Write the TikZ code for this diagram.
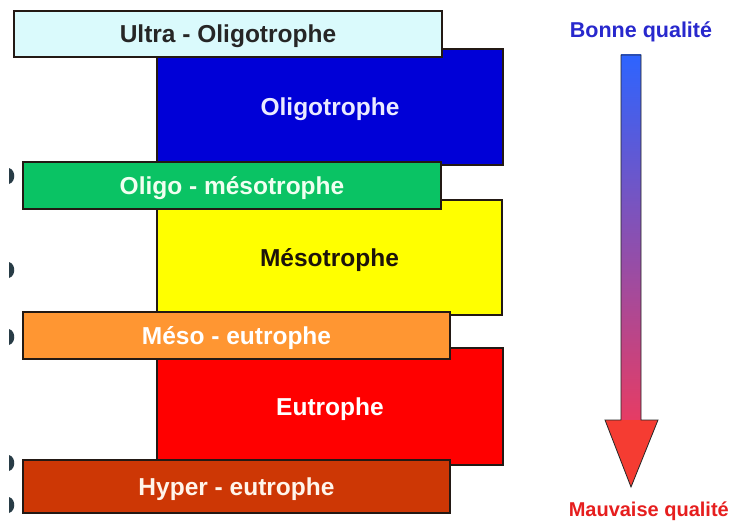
\documentclass[tikz,border=0pt]{standalone}
\usepackage{fontspec}
\setmainfont{Liberation Sans}
\usepackage{tikz}
\usetikzlibrary{
    positioning,
    calc
}
\definecolor{ultraCyan}{RGB}{218, 250, 252}
\definecolor{oligoBlue}{RGB}{0, 0, 215}
\definecolor{omGreen}{RGB}{10, 195, 100}
\definecolor{mesoYellow}{RGB}{255, 255, 0}
\definecolor{meOrange}{RGB}{255, 150, 50}
\definecolor{eutroRed}{RGB}{255, 0, 0}
\definecolor{hyperRust}{RGB}{205, 55, 5}
\definecolor{edgeDark}{RGB}{35, 25, 20}
\definecolor{goodBlue}{RGB}{40, 40, 205}
\definecolor{badRed}{RGB}{230, 30, 30}
\definecolor{markSlate}{RGB}{40, 60, 70}
\definecolor{arrowTop}{RGB}{45, 100, 255}
\definecolor{arrowMid}{RGB}{230, 60, 100}
\definecolor{arrowHead}{RGB}{245, 60, 50}
\tikzset{
    % grands blocs (niveau trophique)
    level/.style={
        rectangle,
        draw=edgeDark,
        line width=1.3pt,
        minimum width=346pt,
        minimum height=116pt,
        inner sep=0pt,
        text height=17pt,
        text depth=0pt,
        font=\bfseries\fontsize{24.5}{28}\selectfont
    },
    % bandes de transition
    band/.style={
        rectangle,
        draw=edgeDark,
        line width=1.3pt,
        minimum height=47pt,
        inner sep=0pt,
        text height=17pt,
        text depth=0pt,
        font=\bfseries\fontsize{24.5}{28}\selectfont
    },
    % libelles de qualite
    quality/.style={
        font=\bfseries\fontsize{21.5}{25}\selectfont,
        inner sep=0pt
    }
}
\begin{document}
\begin{tikzpicture}[x=1pt, y=-1pt]

    \useasboundingbox[fill=white] (0,0) rectangle (730,524);

    % [1] grands blocs
    \node[level, fill=oligoBlue, text=blue!8!white] (oligo) at (330,107) {Oligotrophe};
    \node[level, fill=mesoYellow, text=black!85!brown, minimum width=345pt, minimum height=115pt] (meso) at (329.5,257.5) {Mésotrophe};
    \node[level, fill=eutroRed, text=white, minimum height=117pt] (eutro) at (330,406.5) {Eutrophe};

    % [2] bandes (au-dessus des blocs)
    \node[band, fill=ultraCyan, text=black!85, minimum width=428pt, minimum height=46pt] (ultra) at (228,34) {Ultra - Oligotrophe};
    \node[band, fill=omGreen, text=green!6!white, minimum width=418pt] (oligomeso) at (232,185.5) {Oligo - mésotrophe};
    \node[band, fill=meOrange, text=white, minimum width=427pt] (mesoeu) at (236.5,335.5) {Méso - eutrophe};
    \node[band, fill=hyperRust, text=orange!8!white, minimum width=427pt, minimum height=53pt] (hyper) at (236.5,486.5) {Hyper - eutrophe};

    % petites marques coupees au bord gauche
    \foreach \my in {176, 270, 337, 463, 505}
        \fill[markSlate] (9,\my-8) .. controls (16,\my-6) and (16,\my+6) .. (9,\my+8) -- cycle;

    % [3] echelle de qualite
    \node[quality, text=goodBlue] (good) at (641,32) {Bonne qualité};
    \node[quality, text=badRed, anchor=east, font=\bfseries\fontsize{20}{24}\selectfont] (bad) at (729,511) {Mauvaise qualité};

    \coordinate (top) at (631,55);
    \coordinate (tip) at (631,487);
    % tige en degrade, pointe rouge
    \shade[top color=arrowTop, bottom color=arrowMid]
        ($(top)+(-10,0)$) rectangle ($(tip)+(10,-67)$);
    \fill[arrowHead]
        ($(tip)+(27,-67)$) -- (tip) -- ($(tip)+(-26,-67)$) -- cycle;
    \draw[black!85, line width=0.8pt]
        ($(top)+(-10,0)$) -- ($(top)+(10,0)$) -- ($(tip)+(10,-67)$) -- ($(tip)+(27,-67)$)
        -- (tip) -- ($(tip)+(-26,-67)$) -- ($(tip)+(-10,-67)$) -- cycle;

\end{tikzpicture}
\end{document}
